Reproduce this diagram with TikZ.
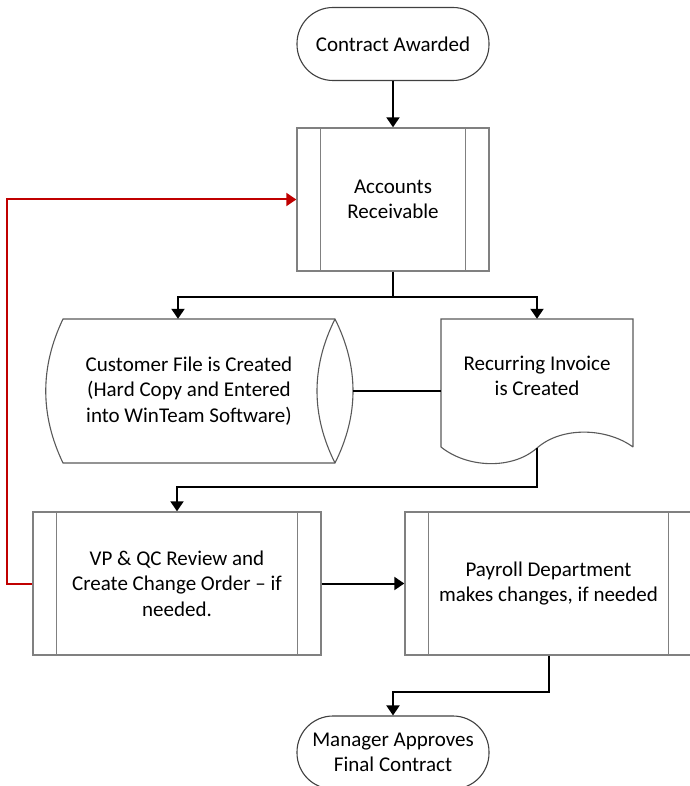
\documentclass[tikz,border=0pt]{standalone}
\usepackage{fontspec}
\setmainfont{Carlito}
\usetikzlibrary{arrows.meta,positioning,calc}
\definecolor{backRed}{RGB}{192,0,0}

\begin{document}
\begin{tikzpicture}[x=1pt,y=-1pt,
				font=\fontsize{21}{25.5}\selectfont,
				terminal/.style={draw=black!75,line width=1.1pt,rounded corners=36pt,minimum width=192pt,minimum height=73pt,inner sep=0pt,align=center},
				predef/.style={draw=black!50,line width=1.4pt,minimum height=143pt,inner sep=0pt,align=center},
				predefLine/.style={draw=black!50,line width=1.4pt},
				shapeLine/.style={draw=black!65,line width=1.1pt},
				flow/.style={line width=2pt,-{Triangle[width=13pt,length=10pt]}},
				link/.style={line width=2pt},
				back/.style={color=backRed,line width=2pt,-{Triangle[width=13pt,length=10pt]}}]
			\useasboundingbox (0,0) rectangle (689,786);
			% nodes
			\node [terminal] (awarded) at (393,44) {Contract Awarded};
			\node [predef,minimum width=192pt] (ar) at (393,199.5) {Accounts\\Receivable};
			\node [align=center,minimum width=328pt,minimum height=144pt,inner sep=0pt] (custfile) at (189,391)
				{Customer File is Created\\(Hard Copy and Entered\\into WinTeam Software)};
			\node [align=center,minimum width=192pt,minimum height=114pt,inner sep=0pt] (invoice) at (537,376)
				{Recurring Invoice\\is Created};
			\node [predef,minimum width=288pt] (review) at (177,583.5) {VP \& QC Review and\\Create Change Order -- if\\needed.};
			\node [predef,minimum width=287pt] (payroll) at (548.5,583.5) {Payroll Department\\makes changes, if needed};
			\node [terminal] (approves) at (393,752.5) {Manager Approves\\Final Contract};
			% side bars of the process boxes
			\foreach \n in {ar,review,payroll}
				\draw [predefLine] ([xshift=24pt]\n.north west) -- ([xshift=24pt]\n.south west)
					([xshift=-24pt]\n.north east) -- ([xshift=-24pt]\n.south east);
			% stored data outline
			\begin{scope}[shift={(custfile)}]
				\draw [shapeLine] (-126,-72) -- (146,-72) .. controls (170,-24) and (170,24) .. (146,72)
					-- (-126,72) .. controls (-149,24) and (-149,-24) .. cycle;
				\draw [shapeLine] (146,-72) .. controls (122,-24) and (122,24) .. (146,72);
			\end{scope}
			% document outline
			\begin{scope}[shift={(invoice)}]
				\draw [shapeLine] (96,71) -- (96,-57) -- (-96,-57) -- (-96,71)
					.. controls (-70,92) and (-25,94) .. (0,72)
					.. controls (25,50) and (70,52) .. (96,71);
				\coordinate (invfoot) at (0,72);
			\end{scope}
			% connectors
			\draw [flow] (awarded) -- (ar);
			\draw [flow] (ar.south) -- ++(0,25) -| ([xshift=-11pt]custfile.north);
			\draw [flow] (ar.south) -- ++(0,25) -| (invoice.north);
			\draw [link] (custfile.east) -- (custfile.east -| invoice.west);
			\draw [flow] (invfoot) -- ++(0,39) -| (review.north);
			\draw [flow] (review.east) -- (payroll.west);
			\draw [flow] (payroll.south) -- ++(0,36) -| (approves.north);
			\draw [back] (review.west) -- ++(-25,0) |- (ar.west);
		\end{tikzpicture}
\end{document}
